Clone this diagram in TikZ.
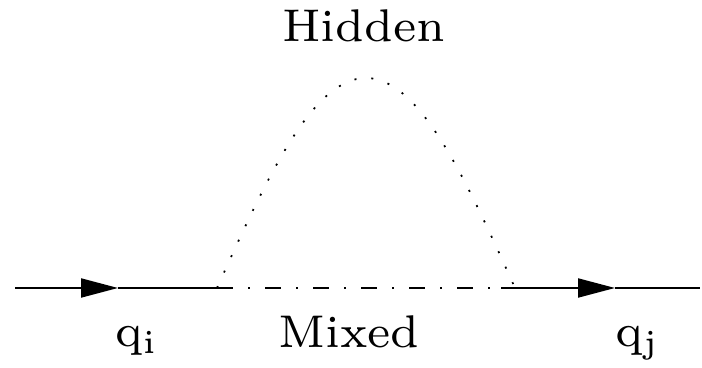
\documentclass[tikz,border=0pt]{standalone}
\usetikzlibrary{arrows.meta}
\begin{document}
\begin{tikzpicture}[x=0.2pt,y=-0.2pt,
  line width=0.4pt,
  fermion/.style={draw,-{Triangle[length=7.4pt,width=3.8pt]}},
  mixed/.style={draw,dash pattern=on 3.2pt off 3pt on 0.4pt off 3pt},
  hidden/.style={draw,line width=0.35pt,dash pattern=on 0.4pt off 3pt},
  lbl/.style={anchor=base,inner sep=0pt,scale=1.31,font=\fontsize{7pt}{8pt}\selectfont}]
\useasboundingbox (0,0) rectangle (702,368);
\coordinate (L) at (15,288);
\coordinate (A1) at (118,288);
\coordinate (V1) at (217,288);
\coordinate (P) at (366,78);
\coordinate (V2) at (515,288);
\coordinate (S2) at (501,288);
\coordinate (M2) at (565,288);
\coordinate (A2) at (615,288);
\coordinate (R) at (700,288);
\draw[fermion] (L) -- (A1);
\draw (A1) -- (V1);
\draw[mixed] (V1) -- (M2);
\draw[fermion] (S2) -- (A2);
\draw (A2) -- (R);
\draw[hidden] (V1) sin (P) cos (V2);
\node[lbl] (hid) at (364,42) {Hidden};
\node[lbl] (mix) at (349,348) {Mixed};
\node[lbl] (qi) at (137,347) {$\mathrm{q}_\mathrm{i}$};
\node[lbl] (qj) at (638,347) {$\mathrm{q}_\mathrm{j}$};
\end{tikzpicture}
\end{document}
